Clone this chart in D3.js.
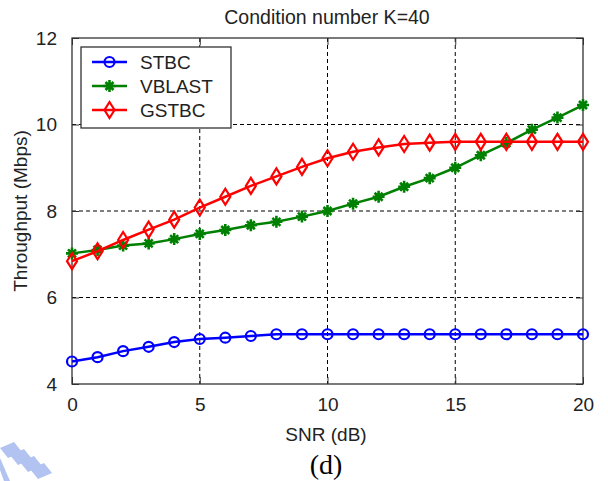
<!DOCTYPE html>
<html>
<head>
<meta charset="utf-8">
<script src="https://cdn.jsdelivr.net/npm/d3@7"></script>
<style>
  body { margin: 0; background: #fff; }
  text { font-family: "Liberation Sans", Arial, sans-serif; fill: #222; }
</style>
</head>
<body>
<svg width="608" height="481"></svg>
<script>
// data
const snr = [0,1,2,3,4,5,6,7,8,9,10,11,12,13,14,15,16,17,18,19,20];
const stbc = [4.52,4.62,4.76,4.86,4.97,5.04,5.07,5.11,5.15,5.15,5.15,5.15,5.15,5.15,5.15,5.15,5.15,5.15,5.15,5.15,5.15];
const vblast = [7.02,7.1,7.2,7.25,7.35,7.47,7.56,7.67,7.75,7.87,8.0,8.17,8.33,8.56,8.76,9.0,9.29,9.57,9.88,10.16,10.45];
const gstbc = [6.84,7.07,7.33,7.57,7.8,8.08,8.33,8.58,8.8,9.02,9.22,9.37,9.47,9.55,9.58,9.6,9.6,9.6,9.6,9.6,9.6];
const seriesNames = ["STBC", "VBLAST", "GSTBC"];
const xTicks = [0,5,10,15,20];
const yTicks = [4,6,8,10,12];

const colors = { STBC: "#0000ff", VBLAST: "#008000", GSTBC: "#ff0000" };
const values = { STBC: stbc, VBLAST: vblast, GSTBC: gstbc };

const svg = d3.select("svg");
const pLeft = 72, pRight = 583, pTop = 38, pBottom = 384;

const x = d3.scaleLinear().domain([0, 20]).range([pLeft, pRight]);
const y = d3.scaleLinear().domain([4, 12]).range([pBottom, pTop]);

// grid
const grid = svg.append("g").attr("stroke", "#000").attr("stroke-width", 1).attr("stroke-dasharray", "4,3");
grid.selectAll("line.gx").data(xTicks.slice(1, -1)).enter().append("line")
    .attr("x1", d => x(d)).attr("x2", d => x(d)).attr("y1", pTop).attr("y2", pBottom);
grid.selectAll("line.gy").data(yTicks.slice(1, -1)).enter().append("line")
    .attr("y1", d => y(d)).attr("y2", d => y(d)).attr("x1", pLeft).attr("x2", pRight);

// axes with inward ticks on all four sides
const tk = 7;
svg.append("g").attr("transform", `translate(0,${pBottom})`)
    .call(d3.axisBottom(x).tickValues(xTicks).tickSize(-tk).tickPadding(14))
    .call(g => g.select(".domain").remove());
svg.append("g").attr("transform", `translate(0,${pTop})`)
    .call(d3.axisTop(x).tickValues(xTicks).tickSize(-tk).tickFormat(""))
    .call(g => g.select(".domain").remove());
svg.append("g").attr("transform", `translate(${pLeft},0)`)
    .call(d3.axisLeft(y).tickValues(yTicks).tickSize(-tk).tickPadding(15))
    .call(g => g.select(".domain").remove());
svg.append("g").attr("transform", `translate(${pRight},0)`)
    .call(d3.axisRight(y).tickValues(yTicks).tickSize(-tk).tickFormat(""))
    .call(g => g.select(".domain").remove());
svg.selectAll(".tick line").attr("stroke", "#333");
svg.selectAll(".tick text").attr("font-size", 19).attr("fill", "#222")
    .attr("font-family", "Liberation Sans, Arial, sans-serif");

svg.append("rect").attr("x", pLeft).attr("y", pTop).attr("width", pRight - pLeft).attr("height", pBottom - pTop)
    .attr("fill", "none").attr("stroke", "#333").attr("stroke-width", 1.3);

// markers
function marker(g, name, cx, cy) {
    const c = colors[name];
    if (name === "STBC") {
        g.append("circle").attr("cx", cx).attr("cy", cy).attr("r", 5)
            .attr("fill", "none").attr("stroke", c).attr("stroke-width", 2.2);
    } else if (name === "VBLAST") {
        g.append("path")
            .attr("d", `M${cx-6},${cy}H${cx+6}M${cx},${cy-6}V${cy+6}M${cx-4},${cy-4}L${cx+4},${cy+4}M${cx-4},${cy+4}L${cx+4},${cy-4}`)
            .attr("stroke", c).attr("stroke-width", 2.6).attr("fill", "none");
        g.append("circle").attr("cx", cx).attr("cy", cy).attr("r", 3).attr("fill", c);
    } else {
        g.append("path")
            .attr("d", `M${cx},${cy-8}L${cx+5},${cy}L${cx},${cy+8}L${cx-5},${cy}Z`)
            .attr("fill", "none").attr("stroke", c).attr("stroke-width", 2.2);
    }
}

const line = d3.line().x((d, i) => x(snr[i])).y(d => y(d));
seriesNames.forEach(name => {
    const g = svg.append("g");
    g.append("path").datum(values[name]).attr("d", line)
        .attr("fill", "none").attr("stroke", colors[name]).attr("stroke-width", 2.5);
    values[name].forEach((v, i) => marker(g, name, x(snr[i]), y(v)));
});

// legend
const lg = svg.append("g");
lg.append("rect").attr("x", 81).attr("y", 47).attr("width", 150).attr("height", 81)
    .attr("fill", "#fff").attr("stroke", "#333").attr("stroke-width", 1.3);
seriesNames.forEach((name, i) => {
    const ly = 62 + i * 24;
    lg.append("line").attr("x1", 92).attr("x2", 127).attr("y1", ly).attr("y2", ly)
        .attr("stroke", colors[name]).attr("stroke-width", 2.5);
    marker(lg, name, 109.5, ly);
    lg.append("text").attr("x", 140).attr("y", ly + 7).attr("font-size", 19).text(name);
});

// titles
svg.append("text").attr("x", 327).attr("y", 24).attr("text-anchor", "middle")
    .attr("font-size", 19.5).text("Condition number K=40");
svg.append("text").attr("x", 326).attr("y", 441).attr("text-anchor", "middle")
    .attr("font-size", 19).text("SNR (dB)");
svg.append("text").attr("transform", `translate(27,211) rotate(-90)`).attr("text-anchor", "middle")
    .attr("font-size", 19).text("Throughput (Mbps)");
svg.append("text").attr("x", 326).attr("y", 474).attr("text-anchor", "middle")
    .attr("font-size", 28).style("font-family", "'Liberation Serif', 'Times New Roman', serif")
    .style("fill", "#000").text("(d)");

// faint logo fragment in the lower left corner
const logo = svg.append("g").attr("fill", "#9fb4ee").attr("opacity", 0.8);
[[0, 448], [10, 455], [20, 462], [30, 469]].forEach(p => {
    logo.append("path").attr("d", `M${p[0]},${p[1]}l14,-6l8,10l-14,6Z`);
});
logo.append("path").attr("d", "M0,458L10,481L4,481L0,470Z");
</script>
</body>
</html>
